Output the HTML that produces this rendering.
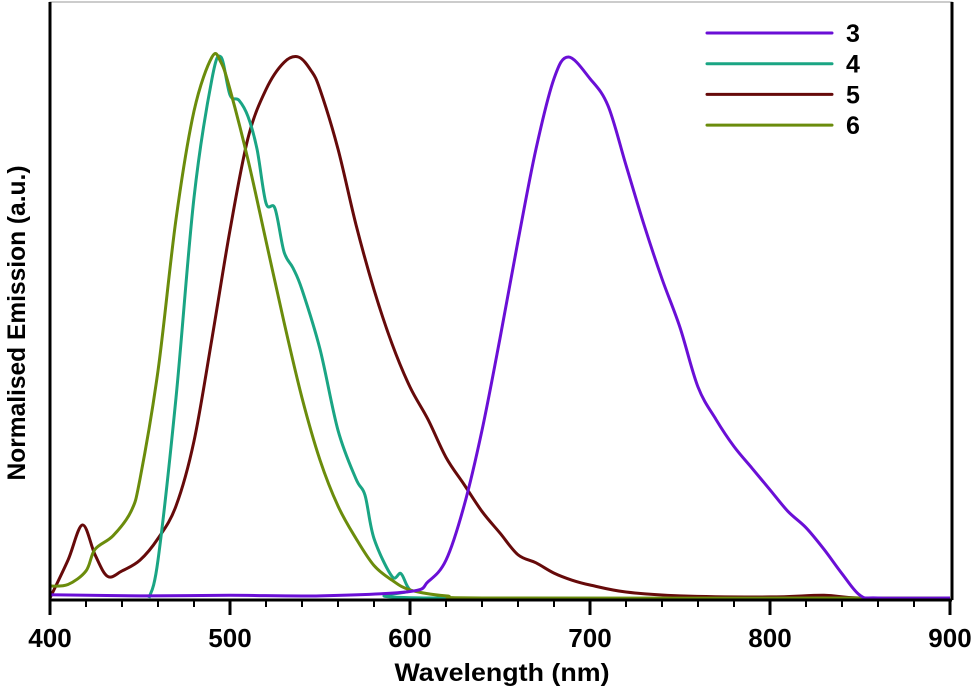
<!DOCTYPE html>
<html><head><meta charset="utf-8"><style>
html,body{margin:0;padding:0;background:#fff;}
svg{display:block;font-family:"Liberation Sans",Arial,sans-serif;}
</style></head><body>
<svg id="chart" width="978" height="687" viewBox="0 0 978 687">
<rect x="50" y="2" width="902" height="598" fill="none" stroke="#999" stroke-width="1"/>
<line x1="952" y1="2" x2="952" y2="600" stroke="#000" stroke-width="3"/>
<g id="series"></g>
<line x1="50" y1="2" x2="50" y2="601" stroke="#000" stroke-width="3"/>
<line x1="49" y1="600" x2="952" y2="600" stroke="#000" stroke-width="3"/>
<g id="ticks"></g>
<text x="502" y="681" text-anchor="middle" font-size="25" font-weight="bold" textLength="215" lengthAdjust="spacingAndGlyphs">Wavelength (nm)</text>
<text transform="translate(25,323) rotate(-90)" text-anchor="middle" font-size="25" font-weight="bold" textLength="315" lengthAdjust="spacingAndGlyphs">Normalised Emission (a.u.)</text>
<g id="legend"></g>
</svg>
<script>
const xTicks=[400,500,600,700,800,900];
const labels=["3","4","5","6"];
const colors=["#6a0fd6","#1aa584","#660a0a","#6b8c0c"];
const w3=[400,450,500,550,600,610,620,630,640,650,660,670,680,688,700,710,720,730,740,750,760,770,780,790,800,810,820,830,840,850,860,900];
const v3=[0.006,0.004,0.005,0.004,0.012,0.03,0.07,0.17,0.31,0.48,0.66,0.83,0.96,1.0,0.96,0.91,0.8,0.69,0.59,0.5,0.39,0.33,0.28,0.24,0.2,0.16,0.13,0.09,0.045,0.005,0,0];
const w4=[455,460,470,480,490,495,500,505,510,515,520,525,530,535,540,550,560,570,575,580,590,595,600,610,900];
const v4=[0,0.07,0.37,0.74,0.96,1.0,0.93,0.92,0.89,0.83,0.73,0.72,0.64,0.61,0.57,0.46,0.31,0.22,0.19,0.11,0.04,0.045,0.015,0,0];
const w5=[400,410,418,425,432,440,450,460,470,480,490,500,510,520,530,538,545,550,560,570,580,590,600,610,620,630,640,650,660,670,680,690,700,720,750,800,830,850,900];
const v5=[0,0.07,0.135,0.08,0.04,0.05,0.07,0.11,0.17,0.29,0.48,0.68,0.85,0.94,0.99,1.0,0.975,0.94,0.83,0.69,0.57,0.47,0.39,0.33,0.26,0.21,0.16,0.12,0.08,0.065,0.046,0.033,0.024,0.011,0.004,0.002,0.005,0,0];
const w6=[400,410,420,425,435,445,450,460,470,480,490,495,500,510,520,530,540,550,560,570,580,590,600,620,650,900];
const v6=[0.022,0.025,0.05,0.09,0.115,0.16,0.22,0.42,0.7,0.9,1.0,0.99,0.94,0.81,0.66,0.51,0.37,0.255,0.17,0.11,0.06,0.033,0.015,0.004,0,0];
const X=nm=>50+(nm-400)*1.8;
const Y=v=>598-541*v;
const NS="http://www.w3.org/2000/svg";
function path(ws,vs){
  const p=ws.map((w,i)=>[X(w),Y(vs[i])]);
  let d="M"+p[0][0]+","+p[0][1];
  for(let i=0;i<p.length-1;i++){
    const p0=p[i-1]||p[i],p1=p[i],p2=p[i+1],p3=p[i+2]||p2;
    const c1=[p1[0]+(p2[0]-p0[0])/6,p1[1]+(p2[1]-p0[1])/6];
    const c2=[p2[0]-(p3[0]-p1[0])/6,p2[1]-(p3[1]-p1[1])/6];
    d+=` C${c1[0]},${c1[1]} ${c2[0]},${c2[1]} ${p2[0]},${p2[1]}`;
  }
  return d;
}
const sets=[[w3,v3],[w4,v4],[w5,v5],[w6,v6]];
const g=document.getElementById("series");
const order=[2,1,3,0];
order.forEach(i=>{
  const el=document.createElementNS(NS,"path");
  el.setAttribute("d",path(sets[i][0],sets[i][1]));
  el.setAttribute("fill","none");el.setAttribute("stroke",colors[i]);el.setAttribute("stroke-width","3");
  
  
  g.appendChild(el);
});
const t=document.getElementById("ticks");
for(let nm=400;nm<=900;nm+=20){
  const major=(nm%100===0);
  const el=document.createElementNS(NS,"line");
  el.setAttribute("x1",X(nm));el.setAttribute("x2",X(nm));el.setAttribute("y1",600);el.setAttribute("y2",major?615:607);
  el.setAttribute("stroke","#000");el.setAttribute("stroke-width",major?3:2);
  
  
  t.appendChild(el);
}
xTicks.forEach(v=>{
  const el=document.createElementNS(NS,"text");
  el.setAttribute("x",X(v));el.setAttribute("y",647);el.setAttribute("text-anchor","middle");
  el.setAttribute("font-size","26");el.setAttribute("font-weight","bold");
  el.textContent=v;
  
  
  t.appendChild(el);
});
const lg=document.getElementById("legend");
labels.forEach((l,i)=>{
  const y=33+i*30.7;
  const ln=document.createElementNS(NS,"line");
  ln.setAttribute("x1",707);ln.setAttribute("x2",832);ln.setAttribute("y1",y);ln.setAttribute("y2",y);
  ln.setAttribute("stroke",colors[i]);ln.setAttribute("stroke-width","3");ln.setAttribute("stroke-linecap","round");
  
  
  lg.appendChild(ln);
  const tx=document.createElementNS(NS,"text");
  tx.setAttribute("x",846);tx.setAttribute("y",y+9);tx.setAttribute("font-size","25");tx.setAttribute("font-weight","bold");
  tx.textContent=l;
  
  
  lg.appendChild(tx);
});
</script>
</body></html>
